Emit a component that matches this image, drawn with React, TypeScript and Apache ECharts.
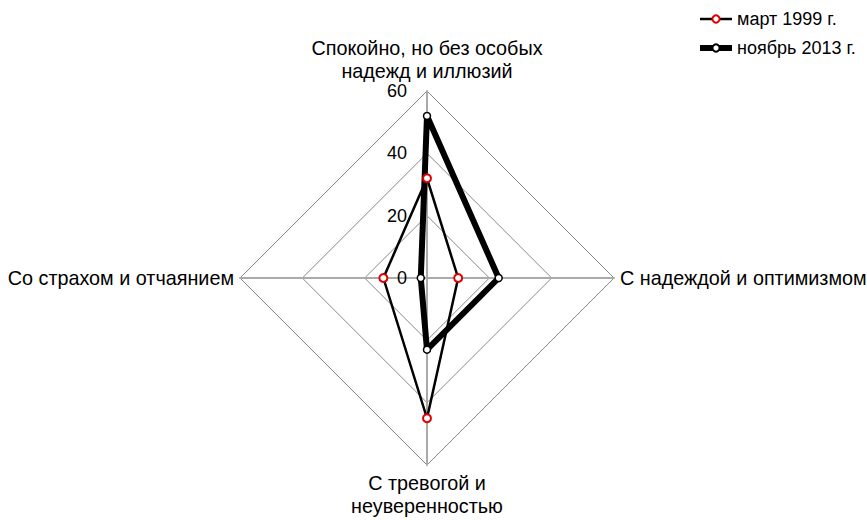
import React, { useEffect, useRef } from 'react';
import * as echarts from 'echarts';

const indicatorNames = [
  'Спокойно, но без особых\nнадежд и иллюзий',
  'Со страхом и отчаянием',
  'С тревогой и\nнеуверенностью',
  'С надеждой и оптимизмом',
];
const axisMin = 0;
const axisMax = 60;
const seriesNames = ['март 1999 г.', 'ноябрь 2013 г.'];
const march1999 = [32, 14, 45, 10];
const november2013 = [52, 2, 23, 23];

const FONT = '"Liberation Sans", Arial, sans-serif';

export default function App() {
  const ref = useRef<HTMLDivElement>(null);
  useEffect(() => {
    if (!ref.current) return;
    const chart = echarts.init(ref.current, undefined, { renderer: 'svg' });
    chart.setOption({
      animation: false,
      backgroundColor: '#fff',
      textStyle: { fontFamily: FONT },
      legend: {
        orient: 'vertical',
        left: 692,
        top: 5,
        itemGap: 11,
        itemWidth: 32,
        itemHeight: 9,
        textStyle: { fontSize: 18, color: '#000', fontFamily: FONT },
        data: [
          {
            name: seriesNames[0],
            lineStyle: { width: 2.5, color: '#000' },
            itemStyle: { color: '#fff', borderColor: '#e00000', borderWidth: 2 },
          },
          {
            name: seriesNames[1],
            lineStyle: { width: 6, color: '#000' },
            itemStyle: { color: '#fff', borderColor: '#000', borderWidth: 2 },
          },
        ],
      },
      grid: { show: false, left: 0, top: 0, width: 1, height: 1 },
      xAxis: { show: false, type: 'value' },
      yAxis: { show: false, type: 'value' },
      radar: {
        center: [427, 278],
        radius: 187,
        shape: 'polygon',
        startAngle: 90,
        splitNumber: 3,
        indicator: indicatorNames.map((n, i) => ({
          name: n,
          min: axisMin,
          max: axisMax,
          axisLabel: { show: i === 0 },
        })),
        axisName: { color: '#000', fontSize: 19.8, fontFamily: FONT, lineHeight: 23 },
        nameGap: 6,
        axisLine: { lineStyle: { color: '#aaa', width: 2 } },
        splitLine: { lineStyle: { color: '#888', width: 1 } },
        splitArea: { show: false },
        axisTick: { show: false },
        axisLabel: { show: true, color: '#000', fontSize: 18, fontFamily: FONT, margin: 20 },
      },
      series: [
        {
          type: 'line',
          name: seriesNames[0],
          data: [],
          symbol: 'circle',
          lineStyle: { color: '#000', width: 2.5 },
          itemStyle: { color: '#fff', borderColor: '#e00000', borderWidth: 2 },
        },
        {
          type: 'line',
          name: seriesNames[1],
          data: [],
          symbol: 'circle',
          lineStyle: { color: '#000', width: 6 },
          itemStyle: { color: '#fff', borderColor: '#000', borderWidth: 2 },
        },
        {
          type: 'radar',
          data: [
            {
              name: seriesNames[1],
              value: november2013,
              symbol: 'circle',
              symbolSize: 7,
              lineStyle: { color: '#000', width: 6 },
              itemStyle: { color: '#fff', borderColor: '#000', borderWidth: 1.5 },
            },
            {
              name: seriesNames[0],
              value: march1999,
              symbol: 'circle',
              symbolSize: 8,
              lineStyle: { color: '#000', width: 2.5 },
              itemStyle: { color: '#fff', borderColor: '#e00000', borderWidth: 2 },
            },
          ],
        },
      ],
    });
    return () => chart.dispose();
  }, []);
  return (
    <div
      ref={ref}
      style={{ position: 'fixed', left: 0, top: 0, width: 867, height: 520 }}
    />
  );
}
